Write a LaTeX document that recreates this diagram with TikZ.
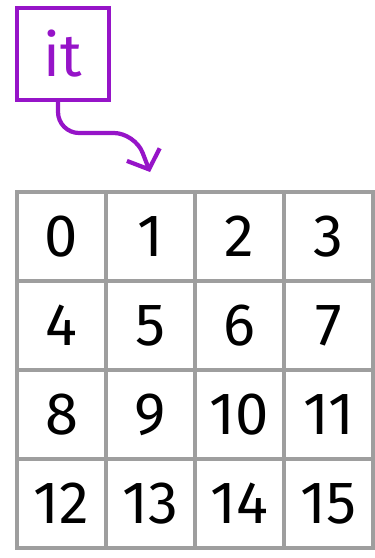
\documentclass[tikz,border=0pt]{standalone}
\usepackage{fontspec}
\setmainfont{Fira Sans}
\usetikzlibrary{arrows.meta}
\definecolor{itpurple}{RGB}{150,20,200}
\definecolor{gridgray}{RGB}{158,158,158}
\begin{document}
\begin{tikzpicture}[font=\fontsize{34}{38}\selectfont,
  cell/.style={draw=gridgray, line width=2.2pt, minimum size=1.78cm, inner sep=0pt},
  var/.style={draw=itpurple, text=itpurple, line width=2.4pt, minimum size=1.84cm, inner sep=0pt},
  conn/.style={draw=itpurple, line width=2.4pt, rounded corners=12pt,
               -{Straight Barb[length=9pt,width=20pt,line width=2.4pt]}},
]
  \useasboundingbox (0,0) rectangle (7.5,-11.16);

  \node[var] (it) at (1.26,-1.08) {it};
  \coordinate (tip) at (3.0,-3.44);
  \draw[conn] ([xshift=-0.1cm]it.south) |- (2.7,-2.66) -- (tip);

  \node[cell] (c0)  at (1.23,-4.73)  {0};
  \node[cell] (c1)  at (3.01,-4.73)  {1};
  \node[cell] (c2)  at (4.79,-4.73)  {2};
  \node[cell] (c3)  at (6.57,-4.73)  {3};

  \node[cell] (c4)  at (1.23,-6.51)  {4};
  \node[cell] (c5)  at (3.01,-6.51)  {5};
  \node[cell] (c6)  at (4.79,-6.51)  {6};
  \node[cell] (c7)  at (6.57,-6.51)  {7};

  \node[cell] (c8)  at (1.23,-8.29)  {8};
  \node[cell] (c9)  at (3.01,-8.29)  {9};
  \node[cell] (c10) at (4.79,-8.29)  {10};
  \node[cell] (c11) at (6.57,-8.29)  {11};

  \node[cell] (c12) at (1.23,-10.07) {12};
  \node[cell] (c13) at (3.01,-10.07) {13};
  \node[cell] (c14) at (4.79,-10.07) {14};
  \node[cell] (c15) at (6.57,-10.07) {15};
\end{tikzpicture}
\end{document}
